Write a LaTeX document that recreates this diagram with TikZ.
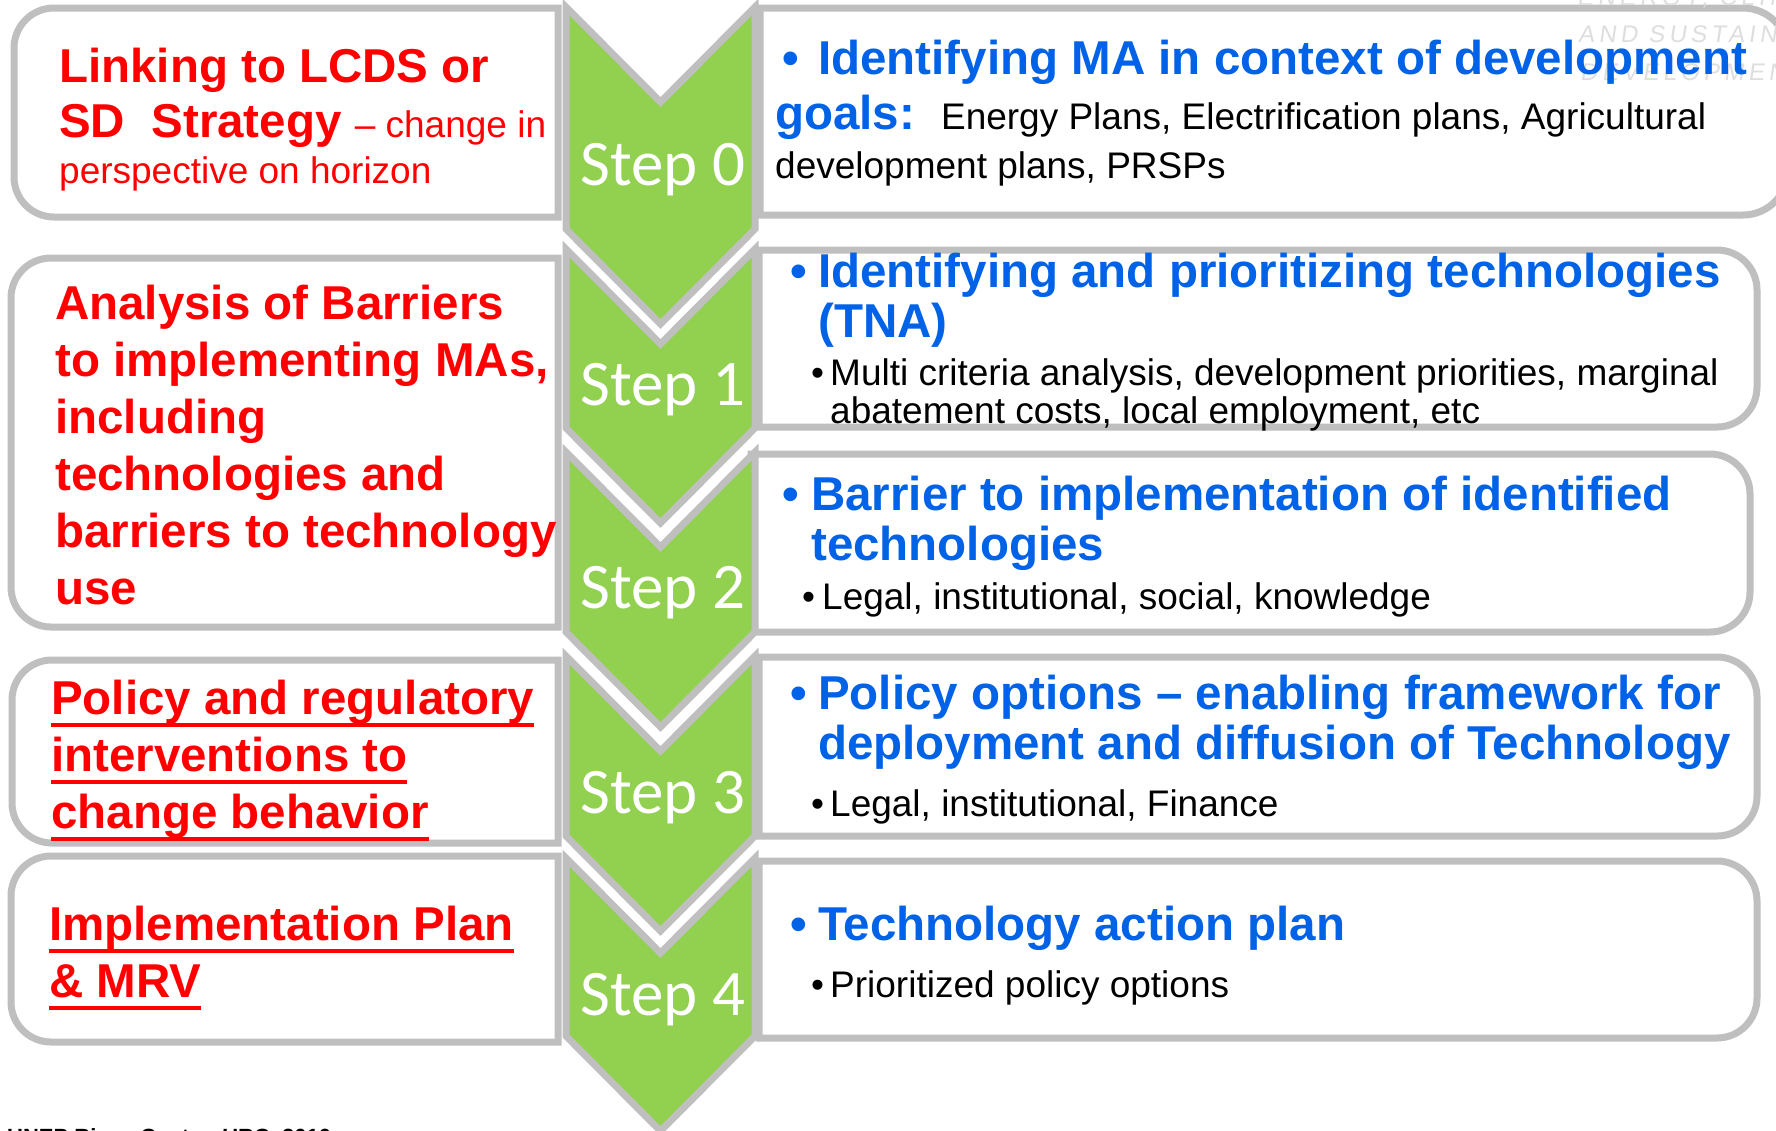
\documentclass[tikz,border=0pt]{standalone}
\usepackage{fontspec}
\setmainfont{Liberation Sans}
\newfontfamily\stepFont{Carlito}
\newfontfamily\markFont[LetterSpace=18,FakeSlant=0.15]{Liberation Sans}
\usepackage{xcolor}
\definecolor{boxGray}{HTML}{BFBFBF}
\definecolor{stepGreen}{HTML}{92D050}
\definecolor{titleBlue}{HTML}{0062E6}
\definecolor{alertRed}{HTML}{FF0000}
\usepackage{tikz}
\newcommand{\redUnder}[1]{\setbox0\hbox{#1}\rlap{\rule[-13pt]{\wd0}{4.5pt}}\box0}
\tikzset{
  leftBox/.style={
    draw=boxGray,
    line width=7pt,
    fill=white
 },
  rightBox/.style={
    draw=boxGray,
    line width=7pt,
    fill=white
 },
  stepArrow/.style={
    draw=boxGray,
    line width=7pt,
    fill=stepGreen,
    line join=miter
 },
  stepLabel/.style={
    anchor=base,
    inner sep=0pt,
    text=white,
    font=\stepFont\fontsize{65}{70}\selectfont
 },
  redText/.style={
    anchor=base west,
    inner sep=0pt,
    text=alertRed,
    font=\fontsize{47.5}{57}\selectfont\bfseries
 },
  blueText/.style={
    anchor=base west,
    inner sep=0pt,
    text=titleBlue,
    font=\fontsize{47.5}{50}\selectfont\bfseries
 },
  detailText/.style={
    anchor=base west,
    inner sep=0pt,
    text=black,
    font=\fontsize{37}{37.5}\selectfont
 },
  markText/.style={
    anchor=base west,
    inner sep=0pt,
    text=black!13,
    font=\markFont\fontsize{24}{24}\selectfont
 }
}

\begin{document}
\begin{tikzpicture}[x=1pt, y=-1pt]
            \useasboundingbox (0,0) rectangle (1776,1130);

            % Left column: what each step links to
            \draw[leftBox] (558,8) [rounded corners=40pt] -- (14,8) -- (14,217) [sharp corners] -- (558,217) -- cycle;
            \draw[leftBox] (558,258) [rounded corners=40pt] -- (11,258) -- (11,627) [sharp corners] -- (558,627) -- cycle;
            \draw[leftBox] (558,660) [rounded corners=40pt] -- (12,660) -- (12,843) [sharp corners] -- (558,843) -- cycle;
            \draw[leftBox] (558,856) [rounded corners=40pt] -- (11,856) -- (11,1042) [sharp corners] -- (558,1042) -- cycle;

            % Right column: contents of each step
            \draw[rightBox] (760,8) [rounded corners=45pt] -- (1788,8) -- (1788,215) [sharp corners] -- (760,215) -- cycle;
            \draw[rightBox] (759,250) [rounded corners=40pt] -- (1757,250) -- (1757,427) [sharp corners] -- (759,427) -- cycle;
            \draw[rightBox] (751,454) [rounded corners=40pt] -- (1750,454) -- (1750,632) [sharp corners] -- (751,632) -- cycle;
            \draw[rightBox] (759,657) [rounded corners=40pt] -- (1757,657) -- (1757,836) [sharp corners] -- (759,836) -- cycle;
            \draw[rightBox] (759,861) [rounded corners=40pt] -- (1757,861) -- (1757,1038) [sharp corners] -- (759,1038) -- cycle;

            % Faint logo behind the first box
            \node[markText] (markTop) at (1577,5) {ENERGY, CLIMATE};
            \node[markText] (markMid) at (1578,42) {AND SUSTAINABLE};
            \node[markText] (markLow) at (1580,80) {DEVELOPMENT};

            % Middle: step chevrons
            \draw[stepArrow] (566,7) -- (660.5,102) -- (755,7) -- (755,229) -- (660.5,324) -- (566,229) -- cycle;
            \draw[stepArrow] (566,249) -- (660.5,344) -- (755,249) -- (755,428) -- (660.5,523) -- (566,428) -- cycle;
            \draw[stepArrow] (566,452) -- (660.5,547) -- (755,452) -- (755,632) -- (660.5,727) -- (566,632) -- cycle;
            \draw[stepArrow] (566,656) -- (660.5,751) -- (755,656) -- (755,836) -- (660.5,931) -- (566,836) -- cycle;
            \draw[stepArrow] (566,858) -- (660.5,953) -- (755,858) -- (755,1036) -- (660.5,1131) -- (566,1036) -- cycle;

            \node[stepLabel] (step0) at (663,185) {Step 0};
            \node[stepLabel] (step1) at (663,405) {Step 1};
            \node[stepLabel] (step2) at (663,608) {Step 2};
            \node[stepLabel] (step3) at (663,813) {Step 3};
            \node[stepLabel] (step4) at (663,1015) {Step 4};

            % Left texts
            \node[redText] (linking) at (59,82) {Linking to LCDS or};
            \node[redText] (strategy) at (59,137) {SD\ \ Strategy\ {\mdseries\fontsize{37}{37}\selectfont – change in}};
            \node[redText, font=\fontsize{37}{37}\selectfont] (horizon) at (59,183) {perspective on horizon};
            \node[redText] (barriers) at (55,319) {\begin{tabular}[t]{@{}l@{}}Analysis of Barriers\\ to implementing MAs,\\ including\\ technologies and\\ barriers to technology\\ use\end{tabular}};
            \node[redText] (policy) at (51,714) {\begin{tabular}[t]{@{}l@{}}\redUnder{Policy and regulatory}\\ \redUnder{interventions to}\\ \redUnder{change behavior}\end{tabular}};
            \node[redText] (mrv) at (49,940) {\begin{tabular}[t]{@{}l@{}}\redUnder{Implementation Plan}\\ \redUnder{\& MRV}\end{tabular}};

            % Right texts
            \node[blueText] (maGoals) at (782,74) {\makebox[36pt][l]{•}Identifying MA in context of development};
            \node[blueText] (goals) at (775,129) {goals:\hspace{26pt}{\mdseries\color{black}\fontsize{37}{37}\selectfont Energy Plans, Electrification plans, Agricultural}};
            \node[detailText] (plans) at (775,178) {development plans, PRSPs};

            \node[blueText] (tna) at (790,287) {\begin{tabular}[t]{@{}l@{}}\makebox[28pt][l]{•}Identifying and prioritizing technologies\\ \hspace{28pt}(TNA)\end{tabular}};
            \node[detailText] (criteria) at (811,385) {\begin{tabular}[t]{@{}l@{}}\makebox[19pt][l]{•}Multi criteria analysis, development priorities, marginal\\ \hspace{19pt}abatement costs, local employment, etc\end{tabular}};

            \node[blueText] (barrier) at (782,510) {\begin{tabular}[t]{@{}l@{}}\makebox[29pt][l]{•}Barrier to implementation of identified\\ \hspace{29pt}technologies\end{tabular}};
            \node[detailText] (social) at (802,609) {\makebox[20pt][l]{•}Legal, institutional, social, knowledge};

            \node[blueText] (options) at (790,709) {\begin{tabular}[t]{@{}l@{}}\makebox[28pt][l]{•}Policy options – enabling framework for\\ \hspace{28pt}deployment and diffusion of Technology\end{tabular}};
            \node[detailText] (finance) at (811,816) {\makebox[19pt][l]{•}Legal, institutional, Finance};

            \node[blueText] (actionPlan) at (790,940) {\makebox[28pt][l]{•}Technology action plan};
            \node[detailText] (prioritized) at (811,997) {\makebox[19pt][l]{•}Prioritized policy options};

            % Footer, cut by the page edge
            \node[anchor=north west, inner sep=0pt, font=\fontsize{22}{24}\selectfont\bfseries] (footer) at (7,1128) {UNEP Risoe Centre, URC, 2010};

        \end{tikzpicture}
\end{document}
